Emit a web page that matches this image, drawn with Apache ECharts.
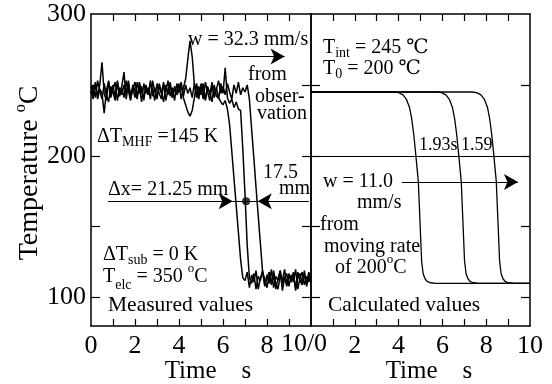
<!DOCTYPE html>
<html>
<head>
<meta charset="utf-8">
<script src="https://cdn.jsdelivr.net/npm/echarts@6/dist/echarts.min.js"></script>
<style>html,body{margin:0;padding:0;background:#fff}#c{width:552px;height:384px}</style>
</head>
<body>
<div id="c"></div>
<script>
// ---- data ----
const TIME_STEP = 0.1; // sampling step of measured traces (s)
const measuredA = [246,240,251,242,250,266,244,239,252,243,
  250,241,253,244,249,259,240,251,243,248,
  241,252,244,249,239,250,243,253,242,248,
  240,251,245,238,250,243,252,241,249,244,
  251,240,248,254,268,281,270,250,241,249,
  243,251,240,248,245,238,250,242,241,238,
  236,239,233,222,203,184,165,146,127,114,
  112,118,107,116,111,119,106,114,118,109,
  116,110,120,107,115,112,119,105,114,117,
  108,116,111,120,106,114,118,109,115,111,116];
const measuredB = [249,243,252,240,247,244,230,246,253,241,
  247,252,239,248,243,250,245,253,240,247,
  252,242,249,238,251,244,248,240,253,245,
  242,249,244,252,239,247,250,241,248,243,
  246,252,241,236,231,228,232,241,251,242,
  249,240,252,245,239,250,243,248,240,251,
  244,262,241,237,240,234,238,233,232,205,
  173,137,114,110,117,106,115,112,119,108,
  114,118,109,116,106,113,119,110,115,108,
  117,111,115,107,118,112,109,116,110,118,112];
const measuredC = [244,250,241,253,246,240,251,243,238,249,
  245,239,251,242,248,241,253,246,239,250,
  246,240,252,245,241,249,243,251,247,239,
  251,244,240,250,245,253,242,248,239,251,
  245,249,242,250,244,248,241,251,244,240,
  251,246,239,249,243,252,241,247,253,244,
  249,243,251,245,240,250,244,252,243,248,
  245,250,240,219,199,178,158,138,118,113,
  107,116,111,119,110,106,115,112,120,109,
  116,112,118,105,114,117,110,119,108,115,111];

const calc1 = [[0,245],[3.8,245],[4.0,244.5],[4.2,243],[4.35,240],[4.5,234],[4.6,226],[4.7,214],[4.79,200],[4.9,182],[5.0,145],[5.05,126],[5.12,117],[5.2,113.5],[5.3,111.5],[5.45,110.5],[5.7,110],[10,110]];
const calc2 = [[0,245],[5.76,245],[5.96,244.5],[6.16,243],[6.31,240],[6.46,234],[6.56,226],[6.66,214],[6.75,200],[6.86,182],[6.96,145],[7.01,126],[7.08,117],[7.16,113.5],[7.26,111.5],[7.41,110.5],[7.66,110],[10,110]];
const calc3 = [[0,245],[7.36,245],[7.56,244.5],[7.76,243],[7.91,240],[8.06,234],[8.16,226],[8.26,214],[8.35,200],[8.46,182],[8.56,145],[8.61,126],[8.68,117],[8.76,113.5],[8.86,111.5],[9.01,110.5],[9.26,110],[10,110]];

const dxPoint = [[7.05, 168]];
const xTicks = [1,2,3,4,5,6,7,8,9];
const leftXLabels = [0,2,4,6,8];
const rightXLabels = [2,4,6,8,10];
const yLabels = [100,200,300];
const yTicks = [100,150,200,250];

// ---- chart ----
const FF = "'Liberation Serif','DejaVu Serif',serif";
const toPairs = arr => arr.map((v,i)=>[+(i*TIME_STEP).toFixed(2), v]);
const black = '#000';
const axLine = {show:true, onZero:false, lineStyle:{color:black, width:1.5}};
function xAx(grid, pos, labels, padLeft){
  return {type:'value', gridIndex:grid, position:pos, min:0, max:10,
    axisLine:axLine, splitLine:{show:false},
    axisTick:{show:true, inside:true, length:7, customValues:xTicks, lineStyle:{color:black,width:1.2}},
    axisLabel: labels ? {show:true, customValues:labels, fontSize:26, fontFamily:FF, color:black, margin:7} : {show:false},
    name: labels ? 'Time    s' : '', nameLocation:'middle', nameGap:33, nameMoveOverlap:false,
    nameTextStyle:{fontSize:25, fontFamily:FF, color:black, padding:[0,0,0,padLeft||0]}};
}
function yAx(grid, pos, ticks, labels){
  return {type:'value', gridIndex:grid, position:pos, min:80, max:300,
    axisLine:axLine, splitLine:{show:false},
    axisTick:{show:true, inside:true, length:9, customValues:ticks, lineStyle:{color:black,width:1.2}},
    axisLabel: labels ? {show:true, customValues:labels, fontSize:26, fontFamily:FF, color:black, margin:5} : {show:false}};
}
function ser(data, xi, yi, w){
  return {type:'line', xAxisIndex:xi, yAxisIndex:yi, data, symbol:'none', lineStyle:{color:black, width:w}, silent:true, animation:false};
}
const arrowLine = (a,b,sym) => [{coord:a, symbol:sym[0]},{coord:b, symbol:sym[1]}];

const T = (x,y,text,size) => ({type:'text', x, y, silent:true,
  style:{text, fill:black, fontSize:size||20, fontFamily:FF, verticalAlign:'middle', align:'left',
    rich:{n:{fontSize:size||20,fontFamily:FF,fill:black,lineHeight:24,verticalAlign:'middle'},
          b:{fontSize:14,fontFamily:FF,fill:black,lineHeight:12,verticalAlign:'bottom'},
          p:{fontSize:13,fontFamily:FF,fill:black,lineHeight:30,verticalAlign:'top'}}}});

const chart = echarts.init(document.getElementById('c'), null, {renderer:'canvas'});
chart.setOption({
  animation:false,
  backgroundColor:'#fff',
  grid:[{left:91, top:14, width:220, height:312, containLabel:false, outerBoundsMode:'none'},
        {left:311, top:14, width:219, height:312, containLabel:false, outerBoundsMode:'none'}],
  xAxis:[xAx(0,'bottom',leftXLabels,14), xAx(0,'top',null), xAx(1,'bottom',rightXLabels,17), xAx(1,'top',null)],
  yAxis:[yAx(0,'left',yTicks,yLabels), yAx(0,'right',yTicks,null),
         yAx(1,'left',yTicks,null), yAx(1,'right',yTicks,null)],
  series:[
    ser(toPairs(measuredA),0,0,1.5), ser(toPairs(measuredB),0,0,1.5), ser(toPairs(measuredC),0,0,1.5),
    ser(calc1,2,2,1.3), ser(calc2,2,2,1.3), ser(calc3,2,2,1.3),
    {type:'scatter', xAxisIndex:0, yAxisIndex:0, data:dxPoint, symbol:'circle', symbolSize:8, itemStyle:{color:black}, silent:true},
    {type:'line', xAxisIndex:0, yAxisIndex:0, data:[], silent:true,
      markLine:{silent:true, animation:false, symbolSize:[12,14], label:{show:false}, lineStyle:{color:black, width:1, type:'solid'},
        data:[
          arrowLine([6.26,270],[8.8,270],['none','arrow']),
          arrowLine([0.78,168],[6.44,168],['none','arrow']),
          arrowLine([9.9,168],[7.58,168],['none','arrow']),
          arrowLine([6.44,168],[7.58,168],['none','none'])
        ]}},
    {type:'line', xAxisIndex:2, yAxisIndex:2, data:[], silent:true,
      markLine:{silent:true, animation:false, symbolSize:[12,14], label:{show:false}, lineStyle:{color:black, width:1, type:'solid'},
        data:[
          arrowLine([4.15,181.6],[9.45,181.6],['none','arrow']),
          arrowLine([0,200],[10,200],['none','none'])
        ]}}
  ],
  graphic:[
    {type:'text', x:30, y:173, rotation:Math.PI/2, silent:true,
      style:{text:'{n|Temperature }{s|o}{n|C}', fill:black, fontSize:28, fontFamily:FF, align:'center', verticalAlign:'middle',
        rich:{n:{fontSize:28,fontFamily:FF,fill:black,lineHeight:30,verticalAlign:'middle'},
              s:{fontSize:16,fontFamily:FF,fill:black,lineHeight:34,verticalAlign:'top'}}}},
    {type:'text', x:304, y:344, silent:true, style:{text:'10/0', fill:black, fontSize:26, fontFamily:FF, align:'center', verticalAlign:'middle'}},
    T(188,40,'w = 32.3 mm/s'),
    T(248,75,'from'), T(255,97,'obser-'), T(257,114,'vation'),
    T(97,137,'{n|ΔT}{b|MHF}{n| =145 K}'),
    T(108,190,'Δx= 21.25 mm'),
    T(263,173,'17.5'), T(279,189,'mm'),
    T(103,255,'{n|ΔT}{b|sub}{n| = 0 K}'),
    T(103,277,'{n|T}{b|elc}{n| = 350 }{p|o}{n|C}'),
    T(108,305,'Measured values',21.5),
    T(323,48,'{n|T}{b|int}{n| = 245 ℃}'),
    T(323,69,'{n|T}{b|0}{n| = 200 ℃}'),
    T(419,145,'1.93s',18), T(461,145,'1.59',18),
    T(323,182,'w = 11.0'), T(357,203,'mm/s'),
    T(320,225,'from'), T(324,247,'moving rate'), T(335,268,'{n|of 200}{p|o}{n|C}'),
    T(328,305,'Calculated values',21.5)
  ]
});
</script>
</body>
</html>
